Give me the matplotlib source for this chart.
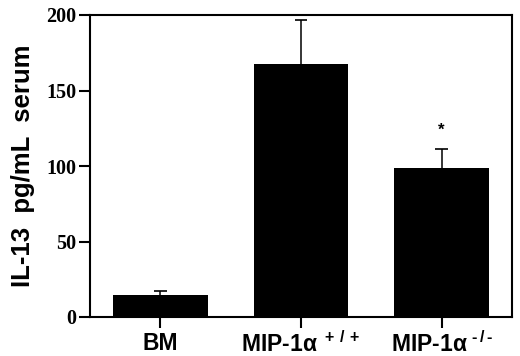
import matplotlib
matplotlib.use("Agg")
import matplotlib.pyplot as plt

plt.rcParams["mathtext.fontset"] = "custom"
plt.rcParams["mathtext.rm"] = "Liberation Sans"
plt.rcParams["mathtext.default"] = "regular"

grupy = ["BM", "MIP-1α$^{\\ +\\,/\\,+}$", "MIP-1α$^{\\ \u2010\\,/\\,\u2010}$"]
wartosci = [14.5, 167.5, 99]
bledy = [3.0, 29, 12.5]
gwiazdki = ["", "", "*"]

fig = plt.figure(figsize=(5.2, 3.56), dpi=100)
ax = fig.add_axes([90 / 520, 39 / 356, 422 / 520, 302 / 356])

pozycje = list(range(len(grupy)))
ax.bar(pozycje, wartosci, width=0.675, color="black", zorder=2)

# tylko górne wąsy błędu
gora = [w + b for w, b in zip(wartosci, bledy)]
ax.vlines(pozycje, wartosci, gora, color="black", lw=1.1, zorder=1)
ax.hlines(gora, [x - 0.045 for x in pozycje], [x + 0.045 for x in pozycje],
          color="black", lw=1.2, zorder=1)

for x, g_, g in zip(pozycje, gora, gwiazdki):
    if g:
        ax.text(x, g_ + 7, g, ha="center", va="bottom", fontsize=12,
                fontweight="bold", family="Liberation Sans")

ax.set_xlim(-0.5, 2.5)
ax.set_ylim(0, 200)
ax.set_yticks([0, 50, 100, 150, 200])
ax.set_xticks(pozycje)
ax.set_xticklabels(grupy, fontsize=16.5, fontweight="bold", family="Liberation Sans")
for t in ax.get_yticklabels():
    t.set_fontfamily("Liberation Serif")
    t.set_fontweight("bold")
    t.set_fontsize(14.5)

ax.set_ylabel("IL-13  pg/mL  serum", fontsize=18.5, fontweight="bold",
              family="Liberation Sans", labelpad=8)

for s in ax.spines.values():
    s.set_linewidth(1.5)
ax.tick_params(axis="both", direction="out", length=8, width=1.5)
ax.tick_params(axis="x", pad=2.5)
ax.tick_params(axis="y", pad=2)

fig.savefig("out.png", dpi=100)
